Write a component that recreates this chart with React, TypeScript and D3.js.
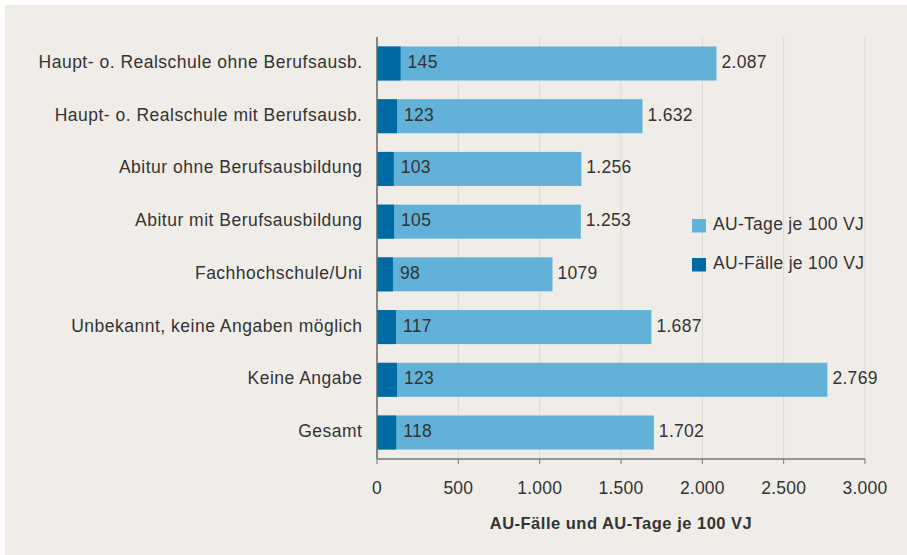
import React from "react";
import * as d3 from "d3";

const categories = [
  "Haupt- o. Realschule ohne Berufsausb.",
  "Haupt- o. Realschule mit Berufsausb.",
  "Abitur ohne Berufsausbildung",
  "Abitur mit Berufsausbildung",
  "Fachhochschule/Uni",
  "Unbekannt, keine Angaben möglich",
  "Keine Angabe",
  "Gesamt",
];
const auTage = [2087, 1632, 1256, 1253, 1079, 1687, 2769, 1702];
const auFaelle = [145, 123, 103, 105, 98, 117, 123, 118];
const tageLabels = ["2.087", "1.632", "1.256", "1.253", "1079", "1.687", "2.769", "1.702"];
const faelleLabels = ["145", "123", "103", "105", "98", "117", "123", "118"];
const ticks = [0, 500, 1000, 1500, 2000, 2500, 3000];
const tickLabels = ["0", "500", "1.000", "1.500", "2.000", "2.500", "3.000"];
const legendLabels = ["AU-Tage je 100 VJ", "AU-Fälle je 100 VJ"];
const axisTitle = "AU-Fälle und AU-Tage je 100 VJ";

const W = 907, H = 555;
const LIGHT = "#62b1d8";
const DARK = "#006aa3";
const TEXT = "#333333";
const FONT = "'Liberation Sans', Arial, sans-serif";
const FS = 17.5;
const LS = 0.5;

export default function App() {
  const x = d3.scaleLinear().domain([0, 3000]).range([377, 865]);
  const y = d3.scaleBand<string>().domain(categories).range([37, 459]).paddingInner(0.355).paddingOuter(0.18);
  const bw = y.bandwidth();
  return (
    <svg width={W} height={H} style={{ position: "absolute", left: 0, top: 0 }} fontFamily={FONT}>
      <rect x={0} y={0} width={W} height={H} fill="#ffffff" />
      <rect x={5} y={5} width={W - 5} height={H - 5} fill="#f0ede8" />
      {ticks.slice(1).map((t) => (
        <line key={t} x1={x(t)} x2={x(t)} y1={37} y2={459} stroke="#dcd8d3" strokeWidth={1} />
      ))}
      {categories.map((c, i) => {
        const yy = y(c)!;
        const cy = yy + bw / 2;
        return (
          <g key={c}>
            <rect x={x(0)} y={yy} width={x(auTage[i]) - x(0)} height={bw} fill={LIGHT} />
            <rect x={x(0)} y={yy} width={x(auFaelle[i]) - x(0)} height={bw} fill={DARK} />
            <text x={x(auFaelle[i]) + 7} y={cy + 4.5} fontSize={FS} letterSpacing={0.3} fill={TEXT}>{faelleLabels[i]}</text>
            <text x={x(auTage[i]) + 5} y={cy + 4.5} fontSize={FS} letterSpacing={0.3} fill={TEXT}>{tageLabels[i]}</text>
            <text x={362.5} y={cy + 4.5} fontSize={FS} letterSpacing={LS} fill={TEXT} textAnchor="end">{c}</text>
          </g>
        );
      })}
      <line x1={x(0)} x2={x(0)} y1={37} y2={459} stroke="#666" strokeWidth={1.5} />
      <line x1={x(0)} x2={x(3000)} y1={459} y2={459} stroke="#777" strokeWidth={1.5} />
      {ticks.map((t, i) => (
        <g key={t}>
          <line x1={x(t)} x2={x(t)} y1={459} y2={464} stroke="#777" strokeWidth={1} />
          <text x={x(t)} y={493.5} fontSize={FS} letterSpacing={0.2} fill={TEXT} textAnchor="middle">{tickLabels[i]}</text>
        </g>
      ))}
      <text x={621} y={529} fontSize={16.5} letterSpacing={0.5} fontWeight="bold" fill={TEXT} textAnchor="middle">{axisTitle}</text>
      {legendLabels.map((l, i) => (
        <g key={l}>
          <rect x={692} y={219 + i * 39} width={14} height={13.5} fill={i === 0 ? LIGHT : DARK} />
          <text x={713} y={229.5 + i * 39} fontSize={FS} letterSpacing={0.3} fill={TEXT}>{l}</text>
        </g>
      ))}
    </svg>
  );
}
